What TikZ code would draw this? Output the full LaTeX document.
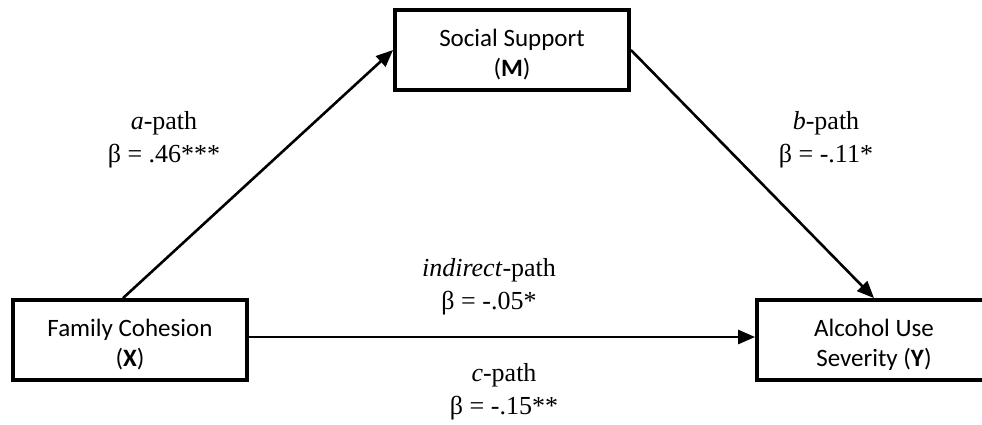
\documentclass[tikz,border=0pt]{standalone}
\usepackage{fontspec}
\setmainfont{Liberation Serif}
\newfontfamily\boxfont{Carlito}
\usepackage{tikz}
\usetikzlibrary{arrows.meta}
\newcommand\boxup{\rule{0pt}{27pt}}

\begin{document}
\begin{tikzpicture}[x=1pt, y=-1pt,
        var/.style={draw, line width=3.8pt, minimum width=234pt, minimum height=80pt,
            align=center, font=\boxfont\fontsize{25}{30}\selectfont},
        coef/.style={align=center, font=\fontsize{26}{33}\selectfont},
        arrow/.style={line width=2.6pt, -{Triangle[length=17pt, width=14pt]}}]
    \useasboundingbox (0,0) rectangle (982,424);
    \node[var] (M) at (512,50) {\boxup Social Support\\(\textbf{M})};
    \node[var] (X) at (130,340) {\boxup Family Cohesion\\(\textbf{X})};
    \node[var] (Y) at (874,340) {\boxup Alcohol Use\\Severity (\textbf{Y})};
    \draw[arrow] ([xshift=-7pt]X.north) -- (M.west);
    \draw[arrow] (M.east) -- (Y.north);
    \draw[arrow] ([yshift=3pt]X.east) -- ([yshift=3pt]Y.west);
    \node[coef] (a) at (164,140) {\textit{a}-path\\β = .46***};
    \node[coef] (b) at (826,140) {\textit{b}-path\\β = -.11*};
    \node[coef] (ind) at (489,287) {\textit{indirect}-path\\β = -.05*};
    \node[coef] (c) at (504,392) {\textit{c}-path\\β = -.15**};
\end{tikzpicture}
\end{document}
